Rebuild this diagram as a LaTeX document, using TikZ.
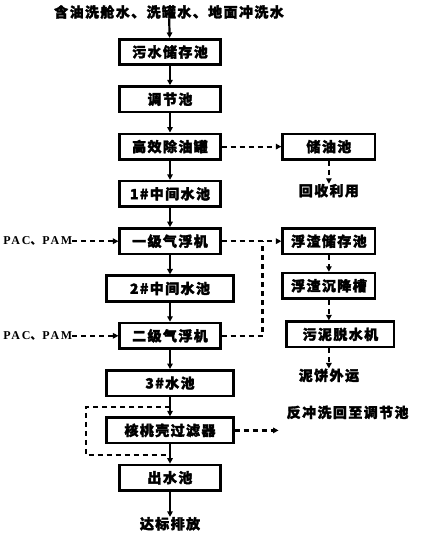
\documentclass[tikz,border=0pt]{standalone}
\usepackage{fontspec}
\setmainfont{Noto Sans CJK SC}
\newfontfamily\serifbold{Liberation Serif}[LetterSpace=14]
\usetikzlibrary{arrows.meta, positioning, calc}

\begin{document}
\begin{tikzpicture}[
  font=\bfseries\fontsize{14}{16}\selectfont\addfontfeature{LetterSpace=10, FakeBold=2.2},
  proc/.style={rectangle, draw=black, line width=2.6pt, fill=white, align=center,
               minimum width=100.5pt, minimum height=25.5pt, inner sep=0pt},
  widebox/.style={proc, minimum width=126.5pt},
  sidebox/.style={proc, minimum width=92.5pt},
  txt/.style={inner sep=0pt, align=center},
  chem/.style={inner sep=0pt, font=\serifbold\bfseries\fontsize{12}{14}\selectfont},
  flow/.style={-{Triangle[length=5.5pt, width=5.5pt]}, line width=2.2pt},
  dashflow/.style={-{Triangle[length=5.5pt, width=5.5pt]}, line width=2.2pt,
                   dash pattern=on 5pt off 4pt},
  dashlink/.style={line width=2.2pt, dash pattern=on 5pt off 4pt}
]
  \useasboundingbox (0,0) rectangle (424pt,-536pt);

  % --- main treatment line (top to bottom) ---
  \node[txt] (source) at (169pt,-12pt) {含油洗舱水、洗罐水、地面冲洗水};
  \node[proc] (store) at (170pt,-52pt) {污水储存池};
  \node[proc, below=19.2pt of store]   (adjust) {调节池};
  \node[proc, below=19.2pt of adjust]  (deoil)  {高效除油罐};
  \node[proc, below=19.2pt of deoil]   (mid1)   {1\#中间水池};
  \node[proc, below=19.2pt of mid1]    (float1) {一级气浮机};
  \node[widebox, below=19.2pt of float1] (mid2) {2\#中间水池};
  \node[proc, below=19.2pt of mid2]    (float2) {二级气浮机};
  \node[widebox, below=19.2pt of float2] (pool3) {3\#水池};
  \node[widebox, below=19.2pt of pool3]  (walnut) {核桃壳过滤器};
  \node[proc, below=19.2pt of walnut]  (outlet) {出水池};
  \node[txt] (discharge) at ($(outlet.south)+(0,-32pt)$) {达标排放};

  % --- side branches ---
  \node[sidebox, right=59.8pt of deoil]  (oiltank) {储油池};
  \node[txt] (reuse) at ($(oiltank.south)+(0,-30pt)$) {回收利用};
  \node[sidebox, right=59.8pt of float1] (scum1) {浮渣储存池};
  \node[sidebox, below=16.5pt of scum1]  (scum2) {浮渣沉降槽};
  \node[proc, minimum width=107.5pt, below=20.5pt of scum2, xshift=11.5pt] (dewater) {污泥脱水机};
  \node[txt] (cake) at ($(dewater.south)+(-11.5pt,-27pt)$) {泥饼外运};

  % dosing
  \node[chem, left=46pt of float1] (pac1) {PAC{\rmfamily 、}PAM};
  \node[chem, left=46pt of float2] (pac2) {PAC{\rmfamily 、}PAM};

  % junction of the two scum lines, bypass and backwash points
  \coordinate (scumjoin) at ($(float1.east)+(41pt,0)$);
  \coordinate (bypasstop) at ($(pool3.south)!0.5!(walnut.north)$);
  \coordinate (bypassbot) at ($(walnut.south)!0.55!(outlet.north)$);
  \coordinate[right=44pt of walnut.east] (backend);
  \node[txt, anchor=west] (backwash) at ($(backend)+(8pt,18pt)$) {反冲洗回至调节池};

  % --- edges ---
  \draw[flow] (source) -- (store);
  \draw[flow] (store) -- (adjust);
  \draw[flow] (adjust) -- (deoil);
  \draw[flow] (deoil) -- (mid1);
  \draw[flow] (mid1) -- (float1);
  \draw[flow] (float1) -- (mid2);
  \draw[flow] (mid2) -- (float2);
  \draw[flow] (float2) -- (pool3);
  \draw[flow] (pool3) -- (walnut);
  \draw[flow] (walnut) -- (outlet);
  \draw[flow] (outlet) -- (discharge);

  \draw[dashflow] (deoil) -- (oiltank);
  \draw[dashflow] (oiltank) -- (reuse);
  \draw[dashflow] (pac1) -- (float1);
  \draw[dashflow] (pac2) -- (float2);
  \draw[dashflow] (float1) -- (scum1);
  \draw[dashlink] (float2.east) -| (scumjoin);
  \draw[dashflow] (scum1) -- (scum2);
  \draw[dashflow] (scum2.south) -- (scum2.south |- dewater.north);
  \draw[dashflow] (dewater.south -| cake) -- (cake);
  \draw[dashlink] (bypasstop) -- ++(-84pt,0) |- (bypassbot);
  \draw[dashflow] (walnut) -- (backend);

\end{tikzpicture}
\end{document}
